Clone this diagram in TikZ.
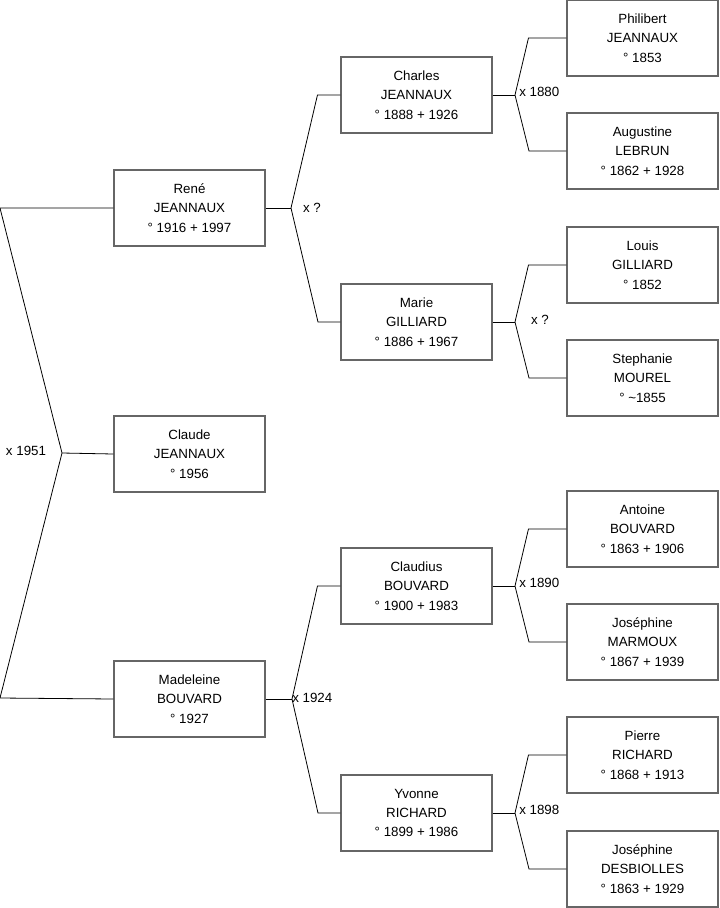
\documentclass[tikz,border=0pt]{standalone}
\usepackage{fontspec}
\setmainfont{Liberation Sans}
\usetikzlibrary{positioning}

\begin{document}
\begin{tikzpicture}[x=0.75pt, y=-0.75pt, font=\fontsize{10}{14.6}\selectfont]
    % Styles des cases et des traits
    \tikzset{person/.style={draw=black!60, line width=0.8pt, minimum width=113.25pt, minimum height=57pt, align=center, inner sep=0pt}}
    \tikzset{link/.style={black, line width=0.6pt}}
    \tikzset{wed/.style={inner sep=0pt}}
    \useasboundingbox (0,0) rectangle (719,908);

    % 1. Generation 1
    \node[person] (rene) at (189.5,208) {René\\JEANNAUX\\° 1916 + 1997};
    \node[person] (claude) at (189.5,454) {Claude\\JEANNAUX\\° 1956};
    \node[person] (madeleine) at (189.5,699) {Madeleine\\BOUVARD\\° 1927};

    % 2. Generation 2
    \node[person] (charles) at (416.5,95) {Charles\\JEANNAUX\\° 1888 + 1926};
    \node[person] (marie) at (416.5,322) {Marie\\GILLIARD\\° 1886 + 1967};
    \node[person] (claudius) at (416.5,586) {Claudius\\BOUVARD\\° 1900 + 1983};
    \node[person] (yvonne) at (416.5,813) {Yvonne\\RICHARD\\° 1899 + 1986};

    % 3. Generation 3
    \node[person] (philibert) at (642.5,38) {Philibert\\JEANNAUX\\° 1853};
    \node[person] (augustine) at (642.5,151) {Augustine\\LEBRUN\\° 1862 + 1928};
    \node[person] (louis) at (642.5,265) {Louis\\GILLIARD\\° 1852};
    \node[person] (stephanie) at (642.5,378) {Stephanie\\MOUREL\\° \textasciitilde1855};
    \node[person] (antoine) at (642.5,529) {Antoine\\BOUVARD\\° 1863 + 1906};
    \node[person] (josephine) at (642.5,642) {Joséphine\\MARMOUX\\° 1867 + 1939};
    \node[person] (pierre) at (642.5,755) {Pierre\\RICHARD\\° 1868 + 1913};
    \node[person] (josephined) at (642.5,869) {Joséphine\\DESBIOLLES\\° 1863 + 1929};

    % 4. Couple René - Madeleine
    \coordinate (c1) at (62,453);
    \draw[link] (rene.west) -- (0,208) -- (c1) -- (0,698) -- (madeleine.west);
    \draw[link] (c1) -- (claude.west);
    \node[wed] (w1) at (26,451) {x 1951};

    % 5. Parents de René
    \coordinate (c2) at (291,208);
    \draw[link] (rene.east) -- (c2);
    \draw[link] (charles.west) -- +(-23,0) -- (c2) -- (318,322) -- (marie.west);
    \node[wed] (w2) at (312,208) {x ?};

    % 6. Parents de Madeleine
    \coordinate (c3) at (292,699);
    \draw[link] (madeleine.east) -- (c3);
    \draw[link] (claudius.west) -- +(-23,0) -- (c3) -- (318,813) -- (yvonne.west);
    \node[wed, right] (w3) at (292,698) {x 1924};

    % 7. Parents de Charles et Marie
    \coordinate (c4) at (515,95);
    \draw[link] (charles.east) -- (c4);
    \draw[link] (philibert.west) -- +(-38,0) -- (c4) -- (529,151) -- (augustine.west);
    \node[wed, right] (w4) at (519,92) {x 1880};

    \coordinate (c5) at (515,322);
    \draw[link] (marie.east) -- (c5);
    \draw[link] (louis.west) -- +(-38,0) -- (c5) -- (529,378) -- (stephanie.west);
    \node[wed] (w5) at (540,320) {x ?};

    % 8. Parents de Claudius et Yvonne
    \coordinate (c6) at (515,586);
    \draw[link] (claudius.east) -- (c6);
    \draw[link] (antoine.west) -- +(-38,0) -- (c6) -- (529,642) -- (josephine.west);
    \node[wed, right] (w6) at (519,583) {x 1890};

    \coordinate (c7) at (515,813);
    \draw[link] (yvonne.east) -- (c7);
    \draw[link] (pierre.west) -- +(-38,0) -- (c7) -- (529,869) -- (josephined.west);
    \node[wed, right] (w7) at (519,810) {x 1898};
\end{tikzpicture}
\end{document}
